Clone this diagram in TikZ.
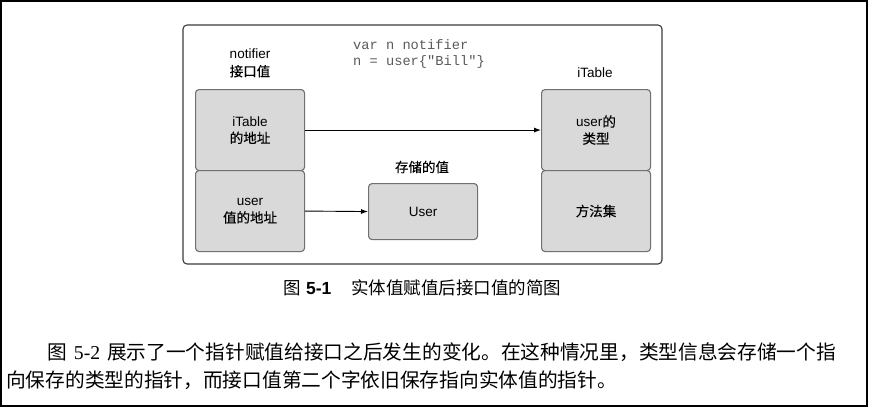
\documentclass[tikz,border=0pt]{standalone}
\usepackage{fontspec}
\setmainfont{Liberation Sans}
\setmonofont{Liberation Mono}
\newfontfamily\cjk{Noto Sans CJK SC}
\newfontfamily\cjkdiag{Noto Sans CJK SC}[FakeBold=0.25]
\newfontfamily\serifnum{Liberation Serif}
\usetikzlibrary{arrows.meta}

\definecolor{cellfill}{HTML}{D9D9D9}
\definecolor{celldraw}{HTML}{707070}
\definecolor{framedraw}{HTML}{3A3A3A}
\definecolor{codegray}{HTML}{5A5A5A}

\tikzset{
  cell/.style={draw=celldraw, fill=cellfill, line width=1.1pt, rounded corners=3.5pt,
    anchor=north west, align=center, inner sep=0pt,
    font=\fontsize{13.5}{17}\selectfont},
  label/.style={align=center, inner sep=0pt, font=\fontsize{13.5}{18}\selectfont},
  code/.style={anchor=west, inner sep=0pt, text=codegray, font=\ttfamily\fontsize{13.7}{16}\selectfont},
  ptr/.style={line width=0.9pt, -{Latex[length=7pt,width=5pt]}},
  bodytext/.style={anchor=west, inner sep=0pt, font=\fontsize{19.7}{24}\selectfont}
}

\begin{document}
\begin{tikzpicture}[x=1pt, y=-1pt]
  \useasboundingbox (0,0) rectangle (869,408);
  % page frame
  \draw[line width=2pt] (1,1) rectangle (867,406);
  % figure frame
  \draw[framedraw, line width=1.1pt, rounded corners=4pt] (183,25) rectangle (662,264);

  % source snippet
  \node[code] (line1) at (353,45) {var n notifier};
  \node[code] (line2) at (353,62) {n = user\{"Bill"\}};

  % interface value: two words
  \node[label] (ifacelbl) at (250,63) {notifier\\{\cjkdiag 接口值}};
  \node[cell, minimum width=109pt, minimum height=81pt] (tabptr) at (195,89)
    {iTable\\{\cjkdiag 的地址}};
  \node[cell, minimum width=109pt, minimum height=81pt] (valptr) at (195,170)
    {user\\{\cjkdiag 值的地址}};

  % stored value
  \node[label] (storedlbl) at (422,167) {\cjkdiag 存储的值};
  \node[cell, minimum width=109pt, minimum height=56pt] (uval) at (368,183) {User};

  % iTable
  \node[label] (itablbl) at (595,73) {iTable};
  \node[cell, minimum width=109pt, minimum height=81pt] (utype) at (541,89)
    {user{\cjkdiag 的}\\{\cjkdiag 类型}};
  \node[cell, minimum width=109pt, minimum height=81pt] (mset) at (541,170)
    {\cjkdiag 方法集};

  % pointers
  \draw[ptr] (tabptr.east) -- (utype.west);
  \draw[ptr] (valptr.east) -- (uval.west);

  % caption
  \node[inner sep=0pt] (caption) at (422.5,288)
    {\fontsize{17.5}{20}\selectfont{\cjk 图}\hspace{5pt}\textbf{5-1}\hspace{20pt}{\cjk 实体值赋值后接口值的简图}};

  % body text
  \node[bodytext] (para1) at (47,352)
    {{\cjk 图}\hspace{7pt}{\serifnum 5-2}\hspace{7pt}{\cjk 展示了一个指针赋值给接口之后发生的变化。在这种情况里，类型信息会存储一个指}};
  \node[bodytext] (para2) at (6,380)
    {\cjk 向保存的类型的指针，而接口值第二个字依旧保存指向实体值的指针。};
\end{tikzpicture}
\end{document}
